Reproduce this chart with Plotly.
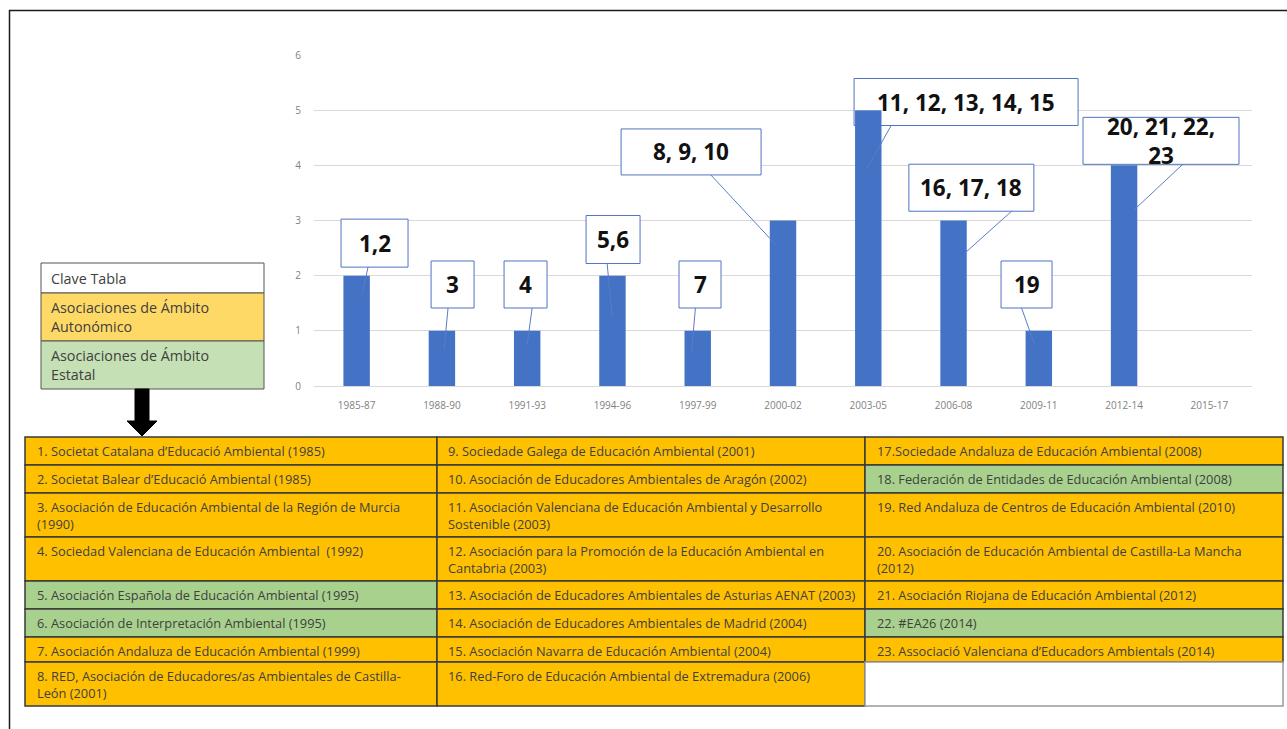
import plotly.graph_objects as go

# ---------------- data ----------------
periods = ["1985-87", "1988-90", "1991-93", "1994-96", "1997-99", "2000-02",
           "2003-05", "2006-08", "2009-11", "2012-14", "2015-17"]
counts = [2, 1, 1, 2, 1, 3, 5, 3, 1, 4, 0]

callout_labels = ["1,2", "3", "4", "5,6", "7", "8, 9, 10", "11, 12, 13, 14, 15",
                  "16, 17, 18", "19", "20, 21, 22,<br>23"]

associations = [
    "1. Societat Catalana d’Educació Ambiental (1985)",
    "2. Societat Balear d’Educació Ambiental (1985)",
    "3. Asociación de Educación Ambiental de la Región de Murcia<br>(1990)",
    "4. Sociedad Valenciana de Educación Ambiental  (1992)",
    "5. Asociación Española de Educación Ambiental (1995)",
    "6. Asociación de Interpretación Ambiental (1995)",
    "7. Asociación Andaluza de Educación Ambiental (1999)",
    "8. RED, Asociación de Educadores/as Ambientales de Castilla-<br>León (2001)",
    "9. Sociedade Galega de Educación Ambiental (2001)",
    "10. Asociación de Educadores Ambientales de Aragón (2002)",
    "11. Asociación Valenciana de Educación Ambiental y Desarrollo<br>Sostenible (2003)",
    "12. Asociación para la Promoción de la Educación Ambiental en<br>Cantabria (2003)",
    "13. Asociación de Educadores Ambientales de Asturias AENAT (2003)",
    "14. Asociación de Educadores Ambientales de Madrid (2004)",
    "15. Asociación Navarra de Educación Ambiental (2004)",
    "16. Red-Foro de Educación Ambiental de Extremadura (2006)",
    "17.Sociedade Andaluza de Educación Ambiental (2008)",
    "18. Federación de Entidades de Educación Ambiental (2008)",
    "19. Red Andaluza de Centros de Educación Ambiental (2010)",
    "20. Asociación de Educación Ambiental de Castilla-La Mancha<br>(2012)",
    "21. Asociación Riojana de Educación Ambiental (2012)",
    "22. #EA26 (2014)",
    "23. Associació Valenciana d’Educadors Ambientals (2014)",
]
# A = ámbito autonómico, E = ámbito estatal
scope = ["A", "A", "A", "A", "E", "E", "A", "A",
         "A", "A", "A", "A", "A", "A", "A", "A",
         "A", "E", "A", "A", "A", "E", "A"]

legend_rows = ["Clave Tabla", "Asociaciones de Ámbito<br>Autonómico",
               "Asociaciones de Ámbito<br>Estatal"]

# ---------------- layout constants ----------------
W, H = 1287, 729
L, R, T, B = 314, 35, 55, 343
PW = W - L - R
PH = H - T - B
Y0 = T + PH  # pixel y of value 0
PX_CAT = PW / len(periods)
PX_UNIT = PH / 6.0

BAR_COLOR = "#4472C4"
ORANGE = "#FFC000"
GREEN = "#A9D18E"
TEXT = "#404040"
FONT = "Open Sans"


def px(X):
    return (X - L) / PW


def py(Y):
    return (Y0 - Y) / PH


# callout geometry: box centre (category index, value), box size px, leader line (idx, val) -> (idx, val)
callout_geom = [
    (0.21, 2.59, 67, 48, 0.134, 2.157, 0.063, 1.65),
    (1.125, 1.84, 43, 47, 1.072, 1.414, 1.025, 0.653),
    (1.981, 1.84, 43, 47, 2.058, 1.414, 1.999, 0.743),
    (3.007, 2.655, 54, 48, 2.937, 2.23, 2.996, 1.269),
    (4.027, 1.84, 42, 47, 3.973, 1.414, 3.927, 0.616),
    (3.922, 4.243, 140, 46, 4.154, 3.825, 4.918, 2.556),
    (7.147, 5.148, 224, 47, 6.267, 4.718, 5.987, 3.946),
    (7.209, 3.594, 125, 47, 7.68, 3.167, 7.13, 2.405),
    (7.856, 1.84, 51, 47, 7.798, 1.414, 7.951, 0.743),
    (9.433, 4.444, 156, 47, 9.688, 4.018, 9.115, 3.19),
]

fig = go.Figure()
fig.add_trace(go.Bar(x=periods, y=counts, marker=dict(color=BAR_COLOR, line=dict(width=0)),
                     width=0.31, hoverinfo="x+y"))

shapes = []
annotations = []

# callouts
for label, (cx, cy, w, h, l0x, l0y, l1x, l1y) in zip(callout_labels, callout_geom):
    dx = w / 2 / PX_CAT
    dy = h / 2 / PX_UNIT
    shapes.append(dict(type="rect", xref="x", yref="y", x0=cx - dx, x1=cx + dx,
                       y0=cy - dy, y1=cy + dy, layer="between",
                       fillcolor="white", line=dict(color="#4F74C2", width=1)))
    shapes.append(dict(type="line", xref="x", yref="y", x0=l0x, y0=l0y, x1=l1x, y1=l1y,
                       layer="above", line=dict(color="#5A7DC6", width=1)))
    annotations.append(dict(xref="x", yref="y", x=cx, y=cy, text=label, showarrow=False,
                            font=dict(family=FONT, size=22.5, color="#111111", weight="bold"),
                            xanchor="center", yanchor="middle", align="center"))

# outer frame
shapes.append(dict(type="line", xref="paper", yref="paper", x0=px(9), x1=px(1290), y0=py(10.5), y1=py(10.5),
                   line=dict(color="#1a1a1a", width=1.5)))
shapes.append(dict(type="line", xref="paper", yref="paper", x0=px(9.5), x1=px(9.5), y0=py(10), y1=py(735),
                   line=dict(color="#1a1a1a", width=1.5)))

# legend key box
leg_x0, leg_x1 = 41, 264
leg_rows_y = [263, 293, 341, 389]
leg_fill = ["white", "#FFD966", "#C5E0B4"]
for i, txt in enumerate(legend_rows):
    shapes.append(dict(type="rect", xref="paper", yref="paper", x0=px(leg_x0), x1=px(leg_x1),
                       y0=py(leg_rows_y[i + 1]), y1=py(leg_rows_y[i]), fillcolor=leg_fill[i],
                       line=dict(color="#555555", width=1)))
    annotations.append(dict(xref="paper", yref="paper", x=px(leg_x0 + 8),
                            y=py((leg_rows_y[i] + leg_rows_y[i + 1]) / 2), text=txt, showarrow=False,
                            xanchor="left", yanchor="middle", align="left",
                            font=dict(family=FONT, size=14.3, color=TEXT)))

# down arrow
arrow_pts = [(135, 389), (149, 389), (149, 421), (157, 421), (142, 436), (127, 421), (135, 421)]
path = "M " + " L ".join(f"{px(a)},{py(b)}" for a, b in arrow_pts) + " Z"
shapes.append(dict(type="path", xref="paper", yref="paper", path=path, fillcolor="black",
                   line=dict(color="black", width=1)))

# table
col_x = [25, 437, 865, 1283]
row_y = [437, 465, 493, 537, 581, 609, 637, 662, 706]
cell_texts = associations + [""]
cell_scope = scope + ["W"]
fill_map = {"A": ORANGE, "E": GREEN, "W": "white"}
text_pad = [10, 9, 10]
for k, (txt, sc) in enumerate(zip(cell_texts, cell_scope)):
    c, r = divmod(k, 8)
    shapes.append(dict(type="rect", xref="paper", yref="paper", x0=px(col_x[c]), x1=px(col_x[c + 1]),
                       y0=py(row_y[r + 1]), y1=py(row_y[r]), fillcolor=fill_map[sc],
                       line=dict(color="#999999" if sc == "W" else "#3a3a3a", width=1.5)))
    if txt:
        annotations.append(dict(xref="paper", yref="paper", x=px(col_x[c] + text_pad[c]),
                                y=py(row_y[r] + 3), text=txt, showarrow=False,
                                xanchor="left", yanchor="top", align="left",
                                font=dict(family=FONT, size=12.8, color=TEXT)))

fig.update_layout(
    width=W, height=H,
    margin=dict(l=L, r=R, t=T, b=B, autoexpand=False),
    paper_bgcolor="white", plot_bgcolor="white",
    showlegend=False,
    shapes=shapes, annotations=annotations,
    xaxis=dict(type="category", range=[-0.5, len(periods) - 0.5], showgrid=False, showline=False,
               ticks="", ticklabelstandoff=12,
               tickfont=dict(family=FONT, size=10, color="#7f7f7f"), fixedrange=True),
    yaxis=dict(range=[0, 6], dtick=1, showgrid=True, gridcolor="#d9d9d9", gridwidth=1,
               zeroline=True, zerolinecolor="#d9d9d9", zerolinewidth=1, showline=False, ticks="",
               ticklabelstandoff=12,
               tickfont=dict(family=FONT, size=10, color="#7f7f7f"), fixedrange=True),
)

fig.write_html("out.html")
